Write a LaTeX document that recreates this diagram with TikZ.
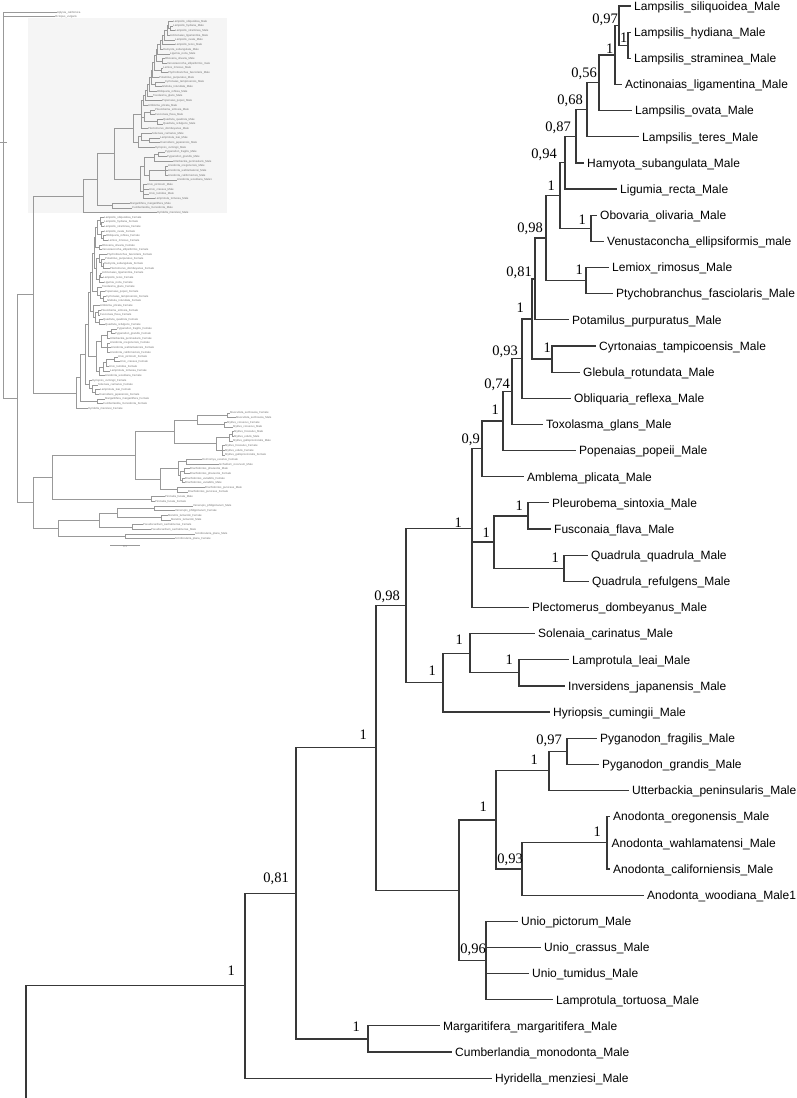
\documentclass[tikz,border=0pt]{standalone}
\usepackage{fontspec}
\newfontfamily\leaffont{Liberation Sans}
\newfontfamily\suppfont{Liberation Serif}
\usetikzlibrary{calc}
\newcommand\tn[4]{\path let \p1=($(#3)!.5!(#4)$) in coordinate (#1) at (#2pt,\y1);}
\begin{document}
\begin{tikzpicture}[x=1pt,y=-1pt,
 mainline/.style={line width=1.2pt,black!78},
 insetline/.style={line width=0.4pt,black!40},
 leaf/.style={anchor=west,inner xsep=3.5pt,inner ysep=0pt,text height=8.6pt,text depth=0pt,font=\leaffont\fontsize{12pt}{14pt}\selectfont},
 ileaf/.style={anchor=west,inner xsep=0.4pt,inner ysep=0pt,text height=2pt,text depth=0pt,font=\leaffont\fontsize{2.8pt}{3pt}\selectfont,text=black!55},
 supp/.style={anchor=base east,inner sep=0pt,font=\suppfont\fontsize{14.5pt}{16pt}\selectfont}]
\useasboundingbox (0,0) rectangle (797,1098);
% highlighted male clade in the thumbnail
\fill[black!4] (28,18) rectangle (227,213);

% ---------- male leaves (main tree and thumbnail) ----------
\foreach \i/\nm/\mx/\ix in {
1/Lampsilis\_siliquoidea\_Male/635/173,
2/Lampsilis\_hydiana\_Male/635/173,
3/Lampsilis\_straminea\_Male/635/175,
4/Actinonaias\_ligamentina\_Male/626/170,
5/Lampsilis\_ovata\_Male/636/175,
6/Lampsilis\_teres\_Male/643/175,
7/Hamyota\_subangulata\_Male/588/163,
8/Ligumia\_recta\_Male/621/170,
9/Obovaria\_olivaria\_Male/601/165,
10/Venustaconcha\_ellipsiformis\_male/608/167,
11/Lemiox\_rimosus\_Male/613/163,
12/Ptychobranchus\_fasciolaris\_Male/617/168,
13/Potamilus\_purpuratus\_Male/573/159,
14/Cyrtonaias\_tampicoensis\_Male/600/165,
15/Glebula\_rotundata\_Male/584/162,
16/Obliquaria\_reflexa\_Male/575/157,
17/Toxolasma\_glans\_Male/547/153,
18/Popenaias\_popeii\_Male/580/162,
19/Amblema\_plicata\_Male/528/148,
20/Pleurobema\_sintoxia\_Male/553/155,
21/Fusconaia\_flava\_Male/555/155,
22/Quadrula\_quadrula\_Male/592/163,
23/Quadrula\_refulgens\_Male/593/163,
24/Plectomerus\_dombeyanus\_Male/533/148,
25/Solenaia\_carinatus\_Male/539/152,
26/Lamprotula\_leai\_Male/573/160,
27/Inversidens\_japanensis\_Male/569/160,
28/Hyriopsis\_cumingii\_Male/554/155,
29/Pyganodon\_fragilis\_Male/601/165,
30/Pyganodon\_grandis\_Male/603/167,
31/Utterbackia\_peninsularis\_Male/633/173,
32/Anodonta\_oregonensis\_Male/614/168,
33/Anodonta\_wahlamatensi\_Male/612.5/168,
34/Anodonta\_californiensis\_Male/614/168,
35/Anodonta\_woodiana\_Male1/648/177,
36/Unio\_pictorum\_Male/522/147,
37/Unio\_crassus\_Male/545/149,
38/Unio\_tumidus\_Male/533/149,
39/Lamprotula\_tortuosa\_Male/557/155,
40/Margaritifera\_margaritifera\_Male/444/130,
41/Cumberlandia\_monodonta\_Male/456/132,
42/Hyridella\_menziesi\_Male/496/157}{
 \coordinate (ml\i) at (\mx-4.5,{6+26.15*(\i-1)});
 \node[leaf] (mt\i) at (ml\i) {\nm};
 \coordinate (il\i) at (\ix-0.4,{21.32+4.66*(\i-1)});
 \node[ileaf] (it\i) at (il\i) {\nm};
}

% ---------- internal nodes (main x / thumbnail x) ----------
\foreach \nd/\mx/\ix/\fa/\la in {
a1/628/169.7/l2/l3, a2/619/168/l1/a1, a3/615/167.2/a2/l4, a4/599/164.1/a3/l5,
a5/587/161.8/a4/l6, a6/576/159.7/a5/l7, a7/565/157.5/a6/l8, b1/591/162.5/l9/l10,
a8/560/156.6/a7/b1, b2/586/161.6/l11/l12, a9/546/153.9/a8/b2, a10/535/151.8/a9/l13,
b3/552/155/l14/l15, a11/532/151.2/a10/b3, a12/522/149.2/a11/l16, a13/512/147.3/a12/l17,
a14/503/145.6/a13/l18, a15/482/142.7/a14/l19, c1/528/150.4/l20/l21, c2/564/157.3/l22/l23,
c3/494/144.2/c1/c2, a16/472/141.4/a15/l24, d1/519/148.7/l26/l27, d2/470/141.2/l25/d1,
d3/443/137.7/d2/l28, a17/406/133/a16/d3, e1/567/157.9/l29/l30, e2/549/154.5/e1/l31,
e3/607/165.6/l32/l34, e4/522/149.2/e3/l35, e5/496/144.5/e2/e4, e6/486/143.2/l36/l39,
e7/459/139.8/e5/e6, a18/376/114/a17/e7, g1/368/112.3/l40/l41, a19/296/97/a18/g1,
a20/245/83/a19/l42}{
 \tn{m\nd}{\mx}{m\fa}{m\la}
 \tn{i\nd}{\ix}{i\fa}{i\la}
}

% ---------- branches ----------
\foreach \pa/\ch in {a1/l2,a1/l3,a2/l1,a2/a1,a3/a2,a3/l4,a4/a3,a4/l5,a5/a4,a5/l6,
a6/a5,a6/l7,a7/a6,a7/l8,b1/l9,b1/l10,a8/a7,a8/b1,b2/l11,b2/l12,a9/a8,a9/b2,
a10/a9,a10/l13,b3/l14,b3/l15,a11/a10,a11/b3,a12/a11,a12/l16,a13/a12,a13/l17,
a14/a13,a14/l18,a15/a14,a15/l19,c1/l20,c1/l21,c2/l22,c2/l23,c3/c1,c3/c2,
a16/a15,a16/c3,a16/l24,d1/l26,d1/l27,d2/l25,d2/d1,d3/d2,d3/l28,a17/a16,a17/d3,
e1/l29,e1/l30,e2/e1,e2/l31,e3/l32,e3/l33,e3/l34,e4/e3,e4/l35,e5/e2,e5/e4,
e6/l36,e6/l37,e6/l38,e6/l39,e7/e5,e7/e6,a18/a17,a18/e7,g1/l40,g1/l41,
a19/a18,a19/g1,a20/a19,a20/l42}{
 \draw[mainline] (m\pa) |- (m\ch);
 \draw[insetline] (i\pa) |- (i\ch);
}
\coordinate (mroot) at (26,1098);
\draw[mainline] (mroot) |- (ma20);

% ---------- support values ----------
\foreach \k/\sx/\sy/\st in {
1/618/23/{0,97}, 2/627.5/42/1, 3/613.5/53/1, 4/597/77/{0,56}, 5/583/104/{0,68},
6/571/131/{0,87}, 7/557/158/{0,94}, 8/555/190/1, 9/543/232/{0,98}, 10/586/224/1,
11/583/274/1, 12/532/276/{0,81}, 13/524/312/1, 14/551/352/1, 15/518/355/{0,93},
16/510/388/{0,74}, 17/499/414/1, 18/480/443/{0,9}, 19/462/527/1, 20/490/537/1,
21/523/510/1, 22/559/562/1, 23/400/600/{0,98}, 24/463/644/1, 25/513/664/1,
26/436/675/1, 27/367/739/1, 28/562/744/{0,97}, 29/538/764/1, 30/487/811/1,
31/601/836/1, 32/523/863/{0,93}, 33/486/953/{0,96}, 34/360/1031/1,
35/289/882/{0,81}, 36/235/975/1}{
 \node[supp] (s\k) at (\sx,\sy) {\st};
}

% ---------- thumbnail: female clade ----------
\foreach \i/\nm/\ix in {
1/Lampsilis\_siliquoidea\_Female/104, 2/Lampsilis\_hydiana\_Female/104,
3/Lampsilis\_straminea\_Female/104, 4/Lampsilis\_ovata\_Female/104,
5/Obliquaria\_reflexa\_Female/106, 6/Lemiox\_rimosus\_Female/108,
7/Obovaria\_olivaria\_Female/102, 8/Venustaconcha\_ellipsiformis\_Female/102,
9/Ptychobranchus\_fasciolaris\_Female/107, 10/Potamilus\_purpuratus\_Female/105,
11/Hamyota\_subangulata\_Female/104, 12/Plectomerus\_dombeyanus\_Female/110,
13/Actinonaias\_ligamentina\_Female/102, 14/Lampsilis\_teres\_Female/103,
15/Ligumia\_recta\_Female/104, 16/Toxolasma\_glans\_Female/102,
17/Popenaias\_popeii\_Female/105, 18/Cyrtonaias\_tampicoensis\_Female/106,
19/Glebula\_rotundata\_Female/107, 20/Amblema\_plicata\_Female/100,
21/Pleurobema\_sintoxia\_Female/101, 22/Fusconaia\_flava\_Female/100,
23/Quadrula\_quadrula\_Female/103, 24/Quadrula\_refulgens\_Female/105,
25/Pyganodon\_fragilis\_Female/117, 26/Pyganodon\_grandis\_Female/115,
27/Utterbackia\_peninsularis\_Female/110, 28/Anodonta\_oregonensis\_Female/110,
29/Anodonta\_wahlamatensis\_Female/111, 30/Anodonta\_californiensis\_Female/110,
31/Unio\_pictorum\_Female/118, 32/Unio\_crassus\_Female/120,
33/Unio\_tumidus\_Female/109, 34/Lamprotula\_tortuosa\_Female/110,
35/Anodonta\_woodiana\_Female/105, 36/Hyriopsis\_cumingii\_Female/92,
37/Solenaia\_carinatus\_Female/98, 38/Lamprotula\_leai\_Female/100,
39/Inversidens\_japanensis\_Female/99, 40/Margaritifera\_margaritifera\_Female/105,
41/Cumberlandia\_monodonta\_Female/103, 42/Hyridella\_menziesi\_Female/88}{
 \coordinate (f\i) at (\ix-0.4,{217.04+4.66*(\i-1)});
 \node[ileaf] (ft\i) at (f\i) {\nm};
}
\foreach \nd/\xx/\fa/\la in {
p1/101.5/f2/f3, p2/100.5/f1/p1, p3/103/f5/f6, p4/101/f4/p3, p5/97/p2/p4,
p6/99.5/f7/f8, p7/95.5/p5/p6, p8/103/f11/f12, p9/101/f10/p8, p10/99/f9/p9,
p11/100/f13/f14, p12/99/p11/f15, p13/96.5/p10/p12, p14/94/p7/p13,
p15/103/f18/f19, p16/100/f17/p15, p17/97/f16/p16, p18/92/p14/p17,
q1/98/f21/f22, q2/99/f23/f24, q3/95/q1/q2, q4/93/f20/q3, FL/90/p18/q4,
r1/111/f25/f26, r2/107/r1/f27, r3/107/f28/f30, r4/101/r2/r3, r5/114/f31/f32,
r6/106/r5/f33, r7/103/r6/f34, r8/99/r7/f35, r9/96/r4/r8, FZ/88/FL/r9,
h1/95/f38/f39, h2/92/f37/h1, h3/89/f36/h2, FY/85/FZ/h3, FM/97/f40/f41,
FX/80/FY/FM, FR/76/FX/f42}{
 \tn{\nd}{\xx}{\fa}{\la}
}
\foreach \pa/\ch in {p1/f2,p1/f3,p2/f1,p2/p1,p3/f5,p3/f6,p4/f4,p4/p3,p5/p2,p5/p4,
p6/f7,p6/f8,p7/p5,p7/p6,p8/f11,p8/f12,p9/f10,p9/p8,p10/f9,p10/p9,p11/f13,p11/f14,
p12/p11,p12/f15,p13/p10,p13/p12,p14/p7,p14/p13,p15/f18,p15/f19,p16/f17,p16/p15,
p17/f16,p17/p16,p18/p14,p18/p17,q1/f21,q1/f22,q2/f23,q2/f24,q3/q1,q3/q2,
q4/f20,q4/q3,FL/p18,FL/q4,r1/f25,r1/f26,r2/r1,r2/f27,r3/f28,r3/f29,r3/f30,
r4/r2,r4/r3,r5/f31,r5/f32,r6/r5,r6/f33,r7/r6,r7/f34,r8/r7,r8/f35,r9/r4,r9/r8,
FZ/FL,FZ/r9,h1/f38,h1/f39,h2/f37,h2/h1,h3/f36,h3/h2,FY/FZ,FY/h3,FM/f40,FM/f41,
FX/FY,FX/FM,FR/FX,FR/f42}{
 \draw[insetline] (\pa) |- (\ch);
}

% ---------- thumbnail: outgroups ----------
\foreach \i/\nm/\ix in {
1/Musculista\_senhousia\_Female/230, 2/Musculista\_senhousia\_Male/236,
3/Mytilus\_coruscus\_Female/227, 4/Mytilus\_coruscus\_Male/233,
5/Mytilus\_trossulus\_Male/234, 6/Mytilus\_edulis\_Male/234,
7/Mytilus\_galloprovincialis\_Male/233, 8/Mytilus\_trossulus\_Female/225,
9/Mytilus\_edulis\_Female/225, 10/Mytilus\_galloprovincialis\_Female/225,
11/Hormomya\_exustus\_Female/202, 12/Ischadium\_recurvum\_Male/219,
13/Brachidontes\_pharaonis\_Male/190, 14/Brachidontes\_pharaonis\_Female/190,
15/Brachidontes\_variabilis\_Female/185, 16/Brachidontes\_variabilis\_Male/185,
17/Brachidontes\_puniceus\_Male/205, 18/Brachidontes\_puniceus\_Female/188,
19/Pinctada\_fucata\_Male/165, 20/Pinctada\_fucata\_Female/155,
21/Venerupis\_philippinarum\_Male/193, 22/Venerupis\_philippinarum\_Female/175,
23/Meretrix\_lamarckii\_Female/168, 24/Meretrix\_lamarckii\_Male/171,
25/Pseudocardium\_sachalinense\_Female/143, 26/Pseudocardium\_sachalinense\_Male/151,
27/Scrobicularia\_plana\_Male/195, 28/Scrobicularia\_plana\_Female/175}{
 \coordinate (o\i) at (\ix-0.4,{412.76+4.66*(\i-1)});
 \node[ileaf] (ot\i) at (o\i) {\nm};
}
\coordinate (apl) at (56.6,12);
\node[ileaf] (aplt) at (apl) {Aplysia\_californica};
\coordinate (oct) at (54.6,16.66);
\node[ileaf] (octt) at (oct) {Octopus\_vulgaris};
\foreach \nd/\xx/\fa/\la in {
m11/227/o1/o2, m12/224/o3/o4, M1/197/m11/m12, m21a/232/o5/o6, m21/229/m21a/o7,
m22/222/o8/o10, M2/216/m21/m22, MM/174/M1/M2, b11/186/o11/o12, b12/184/o13/o14,
b13/182.5/o15/o16, b1x/180/b12/b13, B1/178/b11/b1x, B2/177/o17/o18, BB/160/B1/B2,
ZZ/135/MM/BB, PP/151/o19/o20, XX/52/ZZ/PP, V1/154/o21/o22, V2/161/o23/o24,
VV/117/V1/V2, Ps/132/o25/o26, Y1/99/VV/Ps, SS/125/o27/o28, YY/58/Y1/SS,
WW/33/XX/YY, VN/33/ia20/FR, UU/17/VN/WW, RT/2.7/apl/UU}{
 \tn{\nd}{\xx}{\fa}{\la}
}
\foreach \pa/\ch in {m11/o1,m11/o2,m12/o3,m12/o4,M1/m11,M1/m12,m21a/o5,m21a/o6,
m21/m21a,m21/o7,m22/o8,m22/o9,m22/o10,M2/m21,M2/m22,MM/M1,MM/M2,b11/o11,b11/o12,
b12/o13,b12/o14,b13/o15,b13/o16,b1x/b12,b1x/b13,B1/b11,B1/b1x,B2/o17,B2/o18,
BB/B1,BB/B2,ZZ/MM,ZZ/BB,PP/o19,PP/o20,XX/ZZ,XX/PP,V1/o21,V1/o22,V2/o23,V2/o24,
VV/V1,VV/V2,Ps/o25,Ps/o26,Y1/VV,Y1/Ps,SS/o27,SS/o28,YY/Y1,YY/SS,WW/XX,WW/YY,
VN/ia20,VN/FR,UU/VN,UU/WW,RT/apl,RT/oct,RT/UU}{
 \draw[insetline] (\pa) |- (\ch);
}
% root tick
\coordinate (tk1) at (0,141.7);
\coordinate (tk2) at (6.5,141.7);
\draw[insetline] (tk1) -- (tk2);
% scale bar
\coordinate (sb1) at (110,545);
\coordinate (sb2) at (140,545);
\draw[insetline] (sb1) -- (sb2) node[midway,below=0.3pt,inner sep=0pt,font=\leaffont\fontsize{2.8pt}{3pt}\selectfont,text=black!55] (sbt) {0.1};
\end{tikzpicture}
\end{document}
